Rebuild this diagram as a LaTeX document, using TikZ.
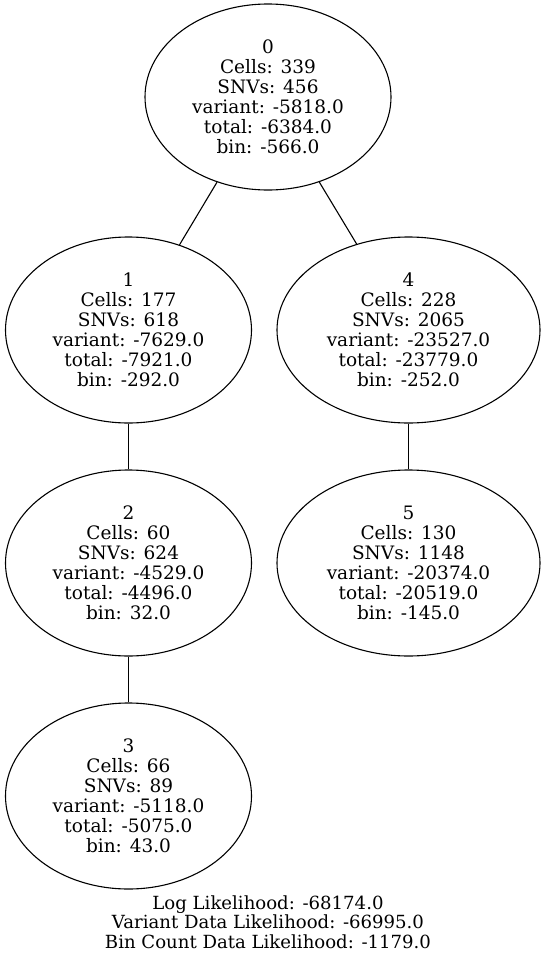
\documentclass[tikz,border=0pt]{standalone}
\usepackage{fontspec}
\setmainfont{DejaVu Serif}
\usetikzlibrary{shapes.geometric}
\tikzset{
  tnode/.style={draw, ellipse, line width=1.1pt, inner sep=0pt, align=center,
    minimum width=246pt, minimum height=186pt,
    font=\fontsize{18.5}{20}\selectfont},
  wnode/.style={tnode, minimum width=263pt},
  edge/.style={line width=1.1pt}
}
\begin{document}
\begin{tikzpicture}[x=1pt,y=-1pt]
\useasboundingbox (0,0) rectangle (546,959);
\node[tnode] (n0) at (268,97) {0\\Cells: 339\\SNVs: 456\\variant: -5818.0\\total: -6384.0\\bin: -566.0};
\node[tnode] (n1) at (128.5,330) {1\\Cells: 177\\SNVs: 618\\variant: -7629.0\\total: -7921.0\\bin: -292.0};
\node[wnode] (n4) at (408.5,330) {4\\Cells: 228\\SNVs: 2065\\variant: -23527.0\\total: -23779.0\\bin: -252.0};
\node[tnode] (n2) at (128.5,563) {2\\Cells: 60\\SNVs: 624\\variant: -4529.0\\total: -4496.0\\bin: 32.0};
\node[wnode] (n5) at (408.5,563) {5\\Cells: 130\\SNVs: 1148\\variant: -20374.0\\total: -20519.0\\bin: -145.0};
\node[tnode] (n3) at (128.5,796) {3\\Cells: 66\\SNVs: 89\\variant: -5118.0\\total: -5075.0\\bin: 43.0};
\draw[edge] (n0) -- (n1);
\draw[edge] (n0) -- (n4);
\draw[edge] (n1) -- (n2);
\draw[edge] (n4) -- (n5);
\draw[edge] (n2) -- (n3);
\node[align=center, inner sep=0pt, font=\fontsize{18.1}{19.5}\selectfont] (legend) at (268,922)
  {Log Likelihood: -68174.0\\Variant Data Likelihood: -66995.0\\Bin Count Data Likelihood: -1179.0};
\end{tikzpicture}
\end{document}
